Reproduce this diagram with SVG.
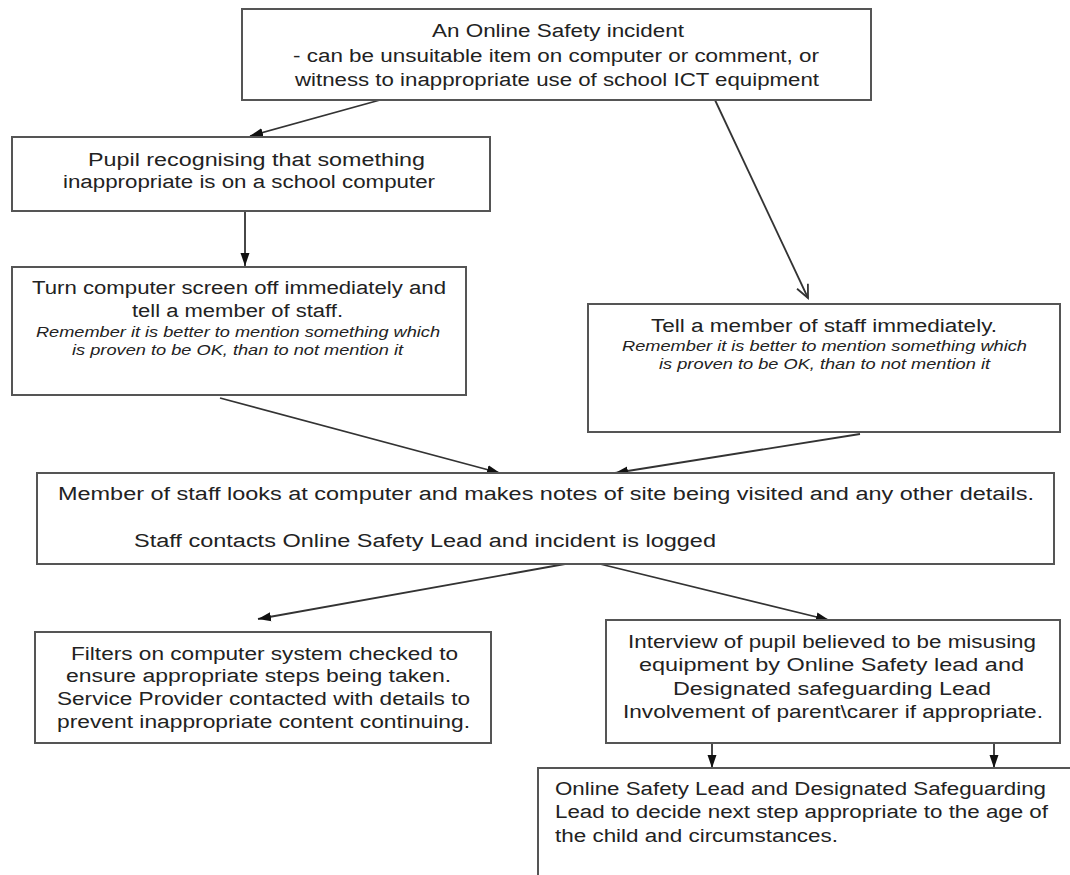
<svg xmlns="http://www.w3.org/2000/svg" width="1070" height="875" viewBox="0 0 1070 875">
<style>
.box{fill:#fff;stroke:#555;stroke-width:2}
.t{font-family:"Liberation Sans",Arial,sans-serif;font-size:18px;fill:#222}
.i{font-family:"Liberation Sans",Arial,sans-serif;font-size:15px;font-style:italic;fill:#222}
.c{stroke:#333;stroke-width:1.8;fill:none}
</style>
<defs>
<marker id="ah" markerUnits="userSpaceOnUse" markerWidth="14" markerHeight="10" refX="13" refY="5" orient="auto">
<path d="M0,0.5 L13,5 L0,9.5 z" fill="#111"/>
</marker>
<marker id="av" markerUnits="userSpaceOnUse" markerWidth="16" markerHeight="16" refX="14" refY="8" orient="auto">
<path d="M1,2 L14,8 L1,14" fill="none" stroke="#333" stroke-width="1.8"/>
</marker>
</defs>
<rect width="1070" height="875" fill="#fff"/>
<g id="connectors">
<line class="c" x1="380" y1="100" x2="250" y2="136" marker-end="url(#ah)"/>
<line class="c" x1="715" y1="100" x2="808" y2="298" marker-end="url(#av)"/>
<line class="c" x1="245" y1="211" x2="245" y2="266" marker-end="url(#ah)"/>
<line class="c" x1="220" y1="398" x2="500" y2="473" marker-end="url(#ah)"/>
<line class="c" x1="860" y1="434" x2="615" y2="473" marker-end="url(#ah)"/>
<line class="c" x1="565" y1="564" x2="258" y2="619" marker-end="url(#ah)"/>
<line class="c" x1="600" y1="564" x2="829" y2="620" marker-end="url(#ah)"/>
<line class="c" x1="712" y1="729" x2="712" y2="768" marker-end="url(#ah)"/>
<line class="c" x1="994" y1="729" x2="994" y2="768" marker-end="url(#ah)"/>
</g>
<g id="incident">
<rect class="box" x="242" y="9" width="629" height="91"/>
<text class="t" x="432" y="37" textLength="252" lengthAdjust="spacingAndGlyphs">An Online Safety incident</text>
<text class="t" x="293" y="62" textLength="526" lengthAdjust="spacingAndGlyphs">- can be unsuitable item on computer or comment, or</text>
<text class="t" x="295" y="86" textLength="524" lengthAdjust="spacingAndGlyphs">witness to inappropriate use of school ICT equipment</text>
</g>
<g id="pupil">
<rect class="box" x="12" y="137" width="478" height="74"/>
<text class="t" x="88" y="166" textLength="337" lengthAdjust="spacingAndGlyphs">Pupil recognising that something</text>
<text class="t" x="63" y="188" textLength="372" lengthAdjust="spacingAndGlyphs">inappropriate is on a school computer</text>
</g>
<g id="turnoff">
<rect class="box" x="12" y="267" width="454" height="128"/>
<text class="t" x="32" y="294" textLength="414" lengthAdjust="spacingAndGlyphs">Turn computer screen off immediately and</text>
<text class="t" x="132" y="317" textLength="211" lengthAdjust="spacingAndGlyphs">tell a member of staff.</text>
<text class="i" x="36" y="337" textLength="404" lengthAdjust="spacingAndGlyphs">Remember it is better to mention something which</text>
<text class="i" x="72" y="355" textLength="331" lengthAdjust="spacingAndGlyphs">is proven to be OK, than to not mention it</text>
</g>
<g id="tellstaff">
<rect class="box" x="588" y="304" width="472" height="128"/>
<text class="t" x="651" y="332" textLength="346" lengthAdjust="spacingAndGlyphs">Tell a member of staff immediately.</text>
<text class="i" x="622" y="351" textLength="405" lengthAdjust="spacingAndGlyphs">Remember it is better to mention something which</text>
<text class="i" x="659" y="369" textLength="331" lengthAdjust="spacingAndGlyphs">is proven to be OK, than to not mention it</text>
</g>
<g id="staffnotes">
<rect class="box" x="37" y="473" width="1017" height="91"/>
<text class="t" x="58" y="500" textLength="976" lengthAdjust="spacingAndGlyphs">Member of staff looks at computer and makes notes of site being visited and any other details.</text>
<text class="t" x="134" y="547" textLength="582" lengthAdjust="spacingAndGlyphs">Staff contacts Online Safety Lead and incident is logged</text>
</g>
<g id="filters">
<rect class="box" x="35" y="632" width="456" height="111"/>
<text class="t" x="71" y="660" textLength="387" lengthAdjust="spacingAndGlyphs">Filters on computer system checked to</text>
<text class="t" x="66" y="682" textLength="385" lengthAdjust="spacingAndGlyphs">ensure appropriate steps being taken.</text>
<text class="t" x="57" y="705" textLength="413" lengthAdjust="spacingAndGlyphs">Service Provider contacted with details to</text>
<text class="t" x="57" y="728" textLength="413" lengthAdjust="spacingAndGlyphs">prevent inappropriate content continuing.</text>
</g>
<g id="interview">
<rect class="box" x="606" y="620" width="454" height="123"/>
<text class="t" x="628" y="648" textLength="408" lengthAdjust="spacingAndGlyphs">Interview of pupil believed to be misusing</text>
<text class="t" x="639" y="671" textLength="385" lengthAdjust="spacingAndGlyphs">equipment by Online Safety lead and</text>
<text class="t" x="673" y="695" textLength="318" lengthAdjust="spacingAndGlyphs">Designated safeguarding Lead</text>
<text class="t" x="623" y="718" textLength="420" lengthAdjust="spacingAndGlyphs">Involvement of parent\carer if appropriate.</text>
</g>
<g id="decide">
<rect class="box" x="538" y="768" width="545" height="120"/>
<text class="t" x="555" y="795" textLength="491" lengthAdjust="spacingAndGlyphs">Online Safety Lead and Designated Safeguarding</text>
<text class="t" x="555" y="818" textLength="493" lengthAdjust="spacingAndGlyphs">Lead to decide next step appropriate to the age of</text>
<text class="t" x="555" y="842" textLength="283" lengthAdjust="spacingAndGlyphs">the child and circumstances.</text>
</g>
</svg>
